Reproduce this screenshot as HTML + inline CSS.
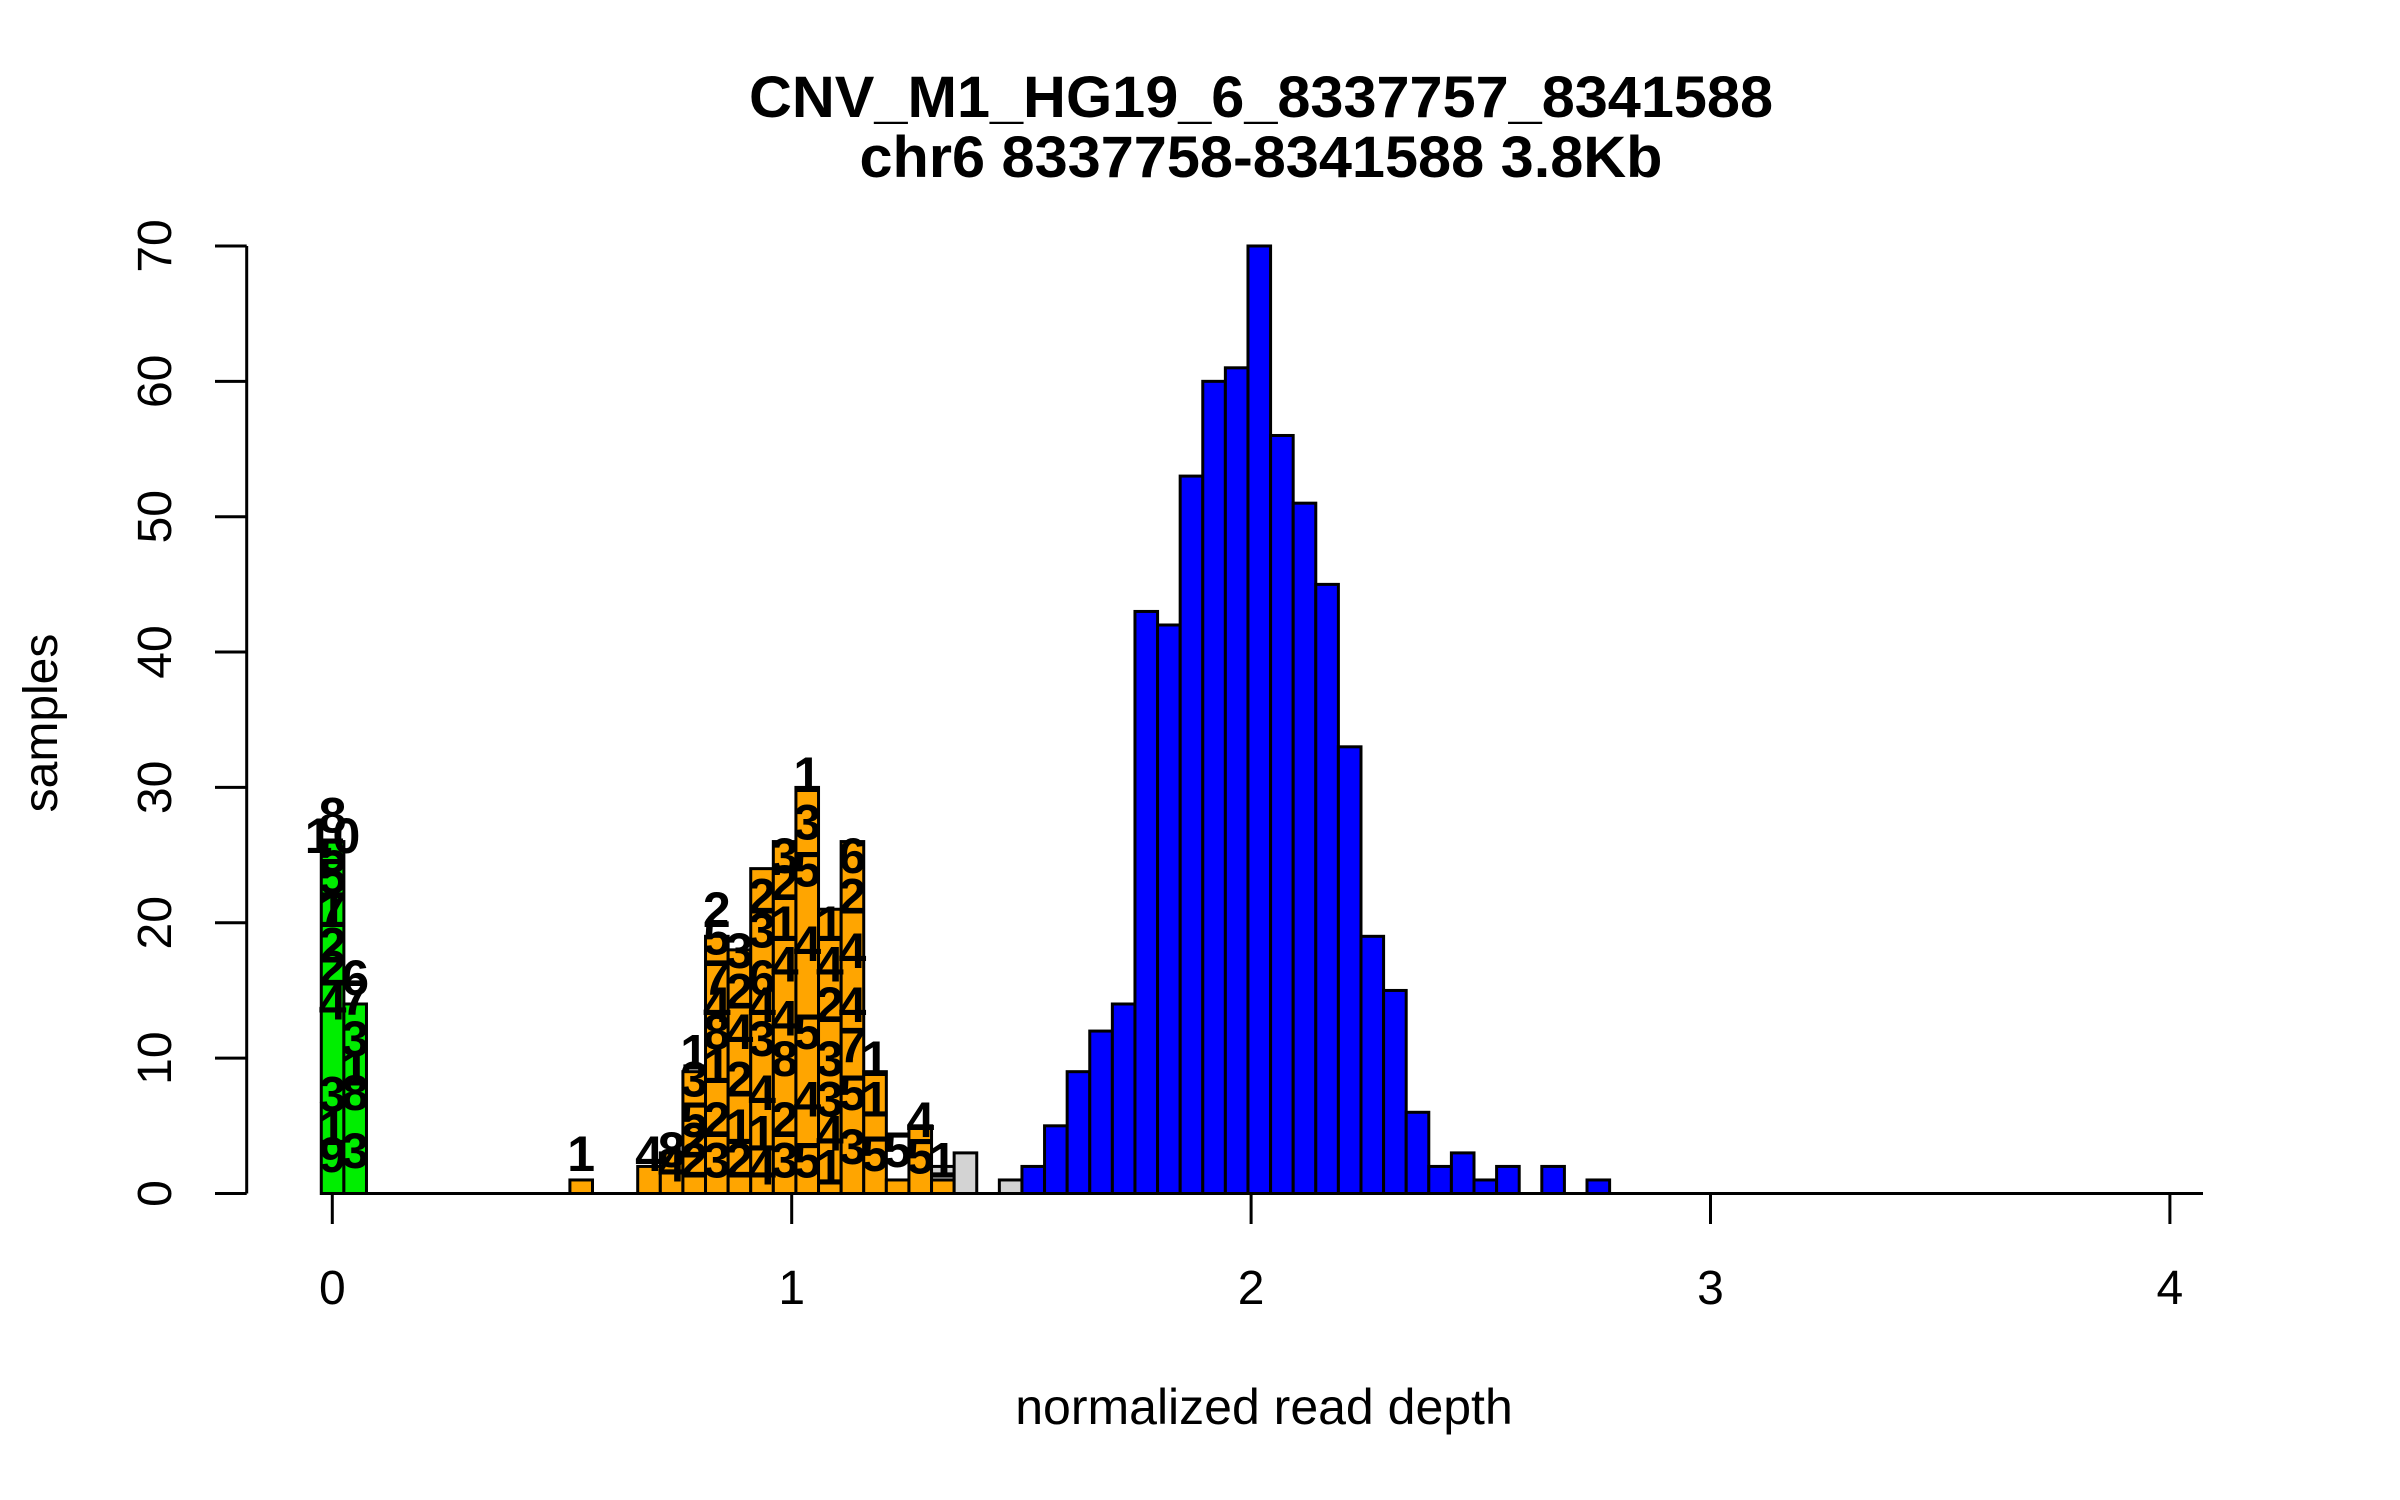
<!DOCTYPE html>
<html><head><meta charset="utf-8"><style>
html,body{margin:0;padding:0;background:#fff;}
svg{display:block;font-family:"Liberation Sans",Arial,sans-serif;}
</style></head><body>
<svg id="chart" width="2400" height="1500" viewBox="0 0 2400 1500" xmlns="http://www.w3.org/2000/svg">
<rect width="2400" height="1500" fill="#fff"/>
<text x="1261" y="117" text-anchor="middle" font-weight="bold" font-size="58" textLength="1024" lengthAdjust="spacingAndGlyphs">CNV_M1_HG19_6_8337757_8341588</text>
<text x="1261" y="177" text-anchor="middle" font-weight="bold" font-size="58" textLength="803" lengthAdjust="spacingAndGlyphs">chr6 8337758-8341588 3.8Kb</text>
<text x="1264" y="1424" text-anchor="middle" font-size="50">normalized read depth</text>
<text transform="translate(57,723) rotate(-90)" text-anchor="middle" font-size="48">samples</text>
<g id="bars"></g>
<g id="labels"></g>
<g id="axes"></g>
</svg>
<script>
// bin grid
const binStart = -0.024;
const binWidth = 0.0492;
// series: bin index and counts
const greenBins = [0, 1];
const greenCounts = [26, 14];
const orangeBins = [11, 14, 15, 16, 17, 18, 19, 20, 21, 22, 23, 24, 25, 26, 27];
const orangeCounts = [1, 2, 3, 9, 19, 18, 24, 26, 30, 21, 26, 9, 1, 5, 1];
const grayBins = [27, 28, 30];
const grayCounts = [1, 3, 1];
const blueBins = [31,32,33,34,35,36,37,38,39,40,41,42,43,44,45,46,47,48,49,50,51,52,53,54,55,56];
const blueCounts = [2,5,9,12,14,43,42,53,60,61,70,56,51,45,33,19,15,6,2,3,1,2,0,2,0,1];
// in-bar labels: bin index, label text, height value
const labelBins = [0,0,0,0,0,0,0,0,0,0,0,0,1,1,1,1,1,1,11,14,15,15,16,16,16,16,16,17,17,17,17,17,17,17,17,18,18,18,18,18,18,19,19,19,19,19,19,19,19,20,20,20,20,20,20,20,20,21,21,21,21,21,21,21,22,22,22,22,22,22,22,23,23,23,23,23,23,23,24,24,24,25,26,26,27];
const labelTexts = ["8","10","5","5","7","1","2","2","4","3","1","9","6","7","3","1","8","3","1","4","8","4","1","3","5","2","2","2","5","7","4","8","1","2","3","3","2","4","2","1","2","2","3","6","4","3","4","1","4","3","2","1","4","4","8","2","3","1","3","5","4","5","4","5","1","4","2","3","3","4","1","6","2","4","4","7","5","3","1","1","5","5","4","5","1"];
const labelValues = [28,26.5,25,23.5,21,21,18.4,16.7,14.2,7.4,4.9,2.9,16,14.5,11.5,9.3,7.5,3.2,3,3,3.3,2.2,10.5,8.5,5.5,4,2.5,21,19,16,14,12,9.5,5.5,2.5,18,15,12,8.5,5,2.5,22,19.5,16,14,11.5,7.5,4.5,2,25,23,20,17,13,10,5.5,2.5,31,27.5,24,18.5,12,7,2.5,20,17,14,10,7,4.5,2,25,22,18,14,11,7.5,3.5,10,7,3,3.3,5.5,2.8,2.5];
const yTicks = [0,10,20,30,40,50,60,70];
const xTicks = [0,1,2,3,4];

const NS = "http://www.w3.org/2000/svg";
const xs = v => 332.3 + v * 459.4;
const ys = c => 1193.5 - c * 13.536;
const gBars = document.getElementById('bars');
const gLab = document.getElementById('labels');
const gAx = document.getElementById('axes');

function mk(tag, attrs, parent){const e=document.createElementNS(NS,tag);for(const k in attrs)e.setAttribute(k,attrs[k]);parent.appendChild(e);return e;}

function drawBar(bin, bottom, count, fill, name){
  if(count<=0) return;
  const x0 = xs(binStart + bin*binWidth), x1 = xs(binStart + (bin+1)*binWidth);
  const r = mk('rect',{x:x0,y:ys(bottom+count),width:x1-x0,height:ys(bottom)-ys(bottom+count),fill:fill,stroke:'#000','stroke-width':3},gBars);
  
  
}
greenBins.forEach((b,i)=>drawBar(b,0,greenCounts[i],'#00ee00','bar-green'));
orangeBins.forEach((b,i)=>drawBar(b,0,orangeCounts[i],'#ffa500','bar-orange'));
grayBins.forEach((b,i)=>{
  const oi = orangeBins.indexOf(b);
  const base = oi>=0 ? orangeCounts[oi] : 0;
  drawBar(b,base,grayCounts[i],'#d3d3d3','bar-gray');
});
blueBins.forEach((b,i)=>drawBar(b,0,blueCounts[i],'#0000ff','bar-blue'));

labelBins.forEach((b,i)=>{
  const cx = xs(binStart + (b+0.5)*binWidth);
  const t = mk('text',{x:cx,y:ys(labelValues[i])+18,'text-anchor':'middle','font-size':50,'font-weight':'bold',fill:'#000'},gLab);
  t.textContent = labelTexts[i];
  
  
});

// axes
const base = mk('line',{x1:321,y1:1193.5,x2:2203,y2:1193.5,stroke:'#000','stroke-width':3},gAx);


const yl = mk('line',{x1:246.7,y1:ys(70),x2:246.7,y2:ys(0),stroke:'#000','stroke-width':3},gAx);


yTicks.forEach(v=>{
  const tk = mk('line',{x1:215,y1:ys(v),x2:246.7,y2:ys(v),stroke:'#000','stroke-width':3},gAx);
  
  
  const t = mk('text',{transform:`translate(171,${ys(v)}) rotate(-90)`,'text-anchor':'middle','font-size':48},gAx);
  t.textContent = String(v);
  
  
});
xTicks.forEach(v=>{
  const tk = mk('line',{x1:xs(v),y1:1193.5,x2:xs(v),y2:1224,stroke:'#000','stroke-width':3},gAx);
  
  
  const t = mk('text',{x:xs(v),y:1304,'text-anchor':'middle','font-size':48},gAx);
  t.textContent = String(v);
  
  
});
</script>
</body></html>
